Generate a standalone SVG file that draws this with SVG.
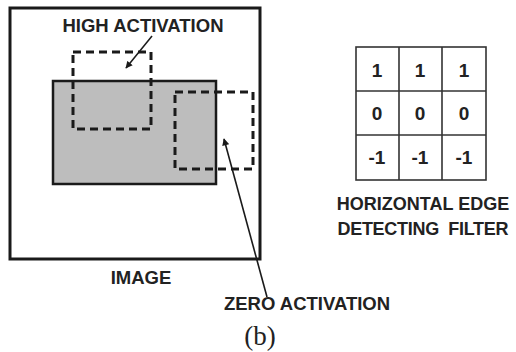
<svg xmlns="http://www.w3.org/2000/svg" width="516" height="352" viewBox="0 0 516 352">
<defs>
<style>
.lbl{font-family:"Liberation Sans",Arial,sans-serif;font-weight:bold;font-size:18.5px;fill:#222}
.flt{font-size:18px}
.num{font-family:"Liberation Sans",Arial,sans-serif;font-weight:bold;font-size:19px;fill:#222;text-anchor:middle}
.dash{fill:none;stroke:#1a1a1a;stroke-width:3;stroke-dasharray:8 5}
.cell{fill:none;stroke:#333;stroke-width:1.6}
.conn{stroke:#1a1a1a;stroke-width:1.6;fill:none}
</style>
<marker id="ah" viewBox="0 0 10 10" refX="9" refY="5" markerWidth="8" markerHeight="7" orient="auto" markerUnits="userSpaceOnUse">
<path d="M0,0 L10,5 L0,10 z" fill="#1a1a1a"/>
</marker>
</defs>
<rect width="516" height="352" fill="#fff"/>
<g id="image">
<rect x="10" y="8" width="250" height="251" fill="none" stroke="#1a1a1a" stroke-width="3"/>
<rect x="53" y="81" width="163" height="103" fill="#bdbdbd" stroke="#1a1a1a" stroke-width="2.5"/>
<text class="lbl" x="141" y="284" text-anchor="middle">IMAGE</text>
</g>
<g id="high-window">
<rect class="dash" x="73" y="52" width="78" height="77"/>
</g>
<g id="zero-window">
<rect class="dash" x="175" y="92" width="78" height="77"/>
</g>
<g id="high-label">
<text class="lbl" x="143" y="32" text-anchor="middle">HIGH ACTIVATION</text>
</g>
<g id="zero-label">
<text class="lbl" x="307" y="310" text-anchor="middle">ZERO ACTIVATION</text>
</g>
<g id="connectors">
<line class="conn" x1="152" y1="36" x2="126" y2="68" marker-end="url(#ah)"/>
<line class="conn" x1="267" y1="297" x2="224" y2="139" marker-end="url(#ah)"/>
</g>
<g id="filter">
<rect class="cell" x="356" y="47" width="130" height="133"/>
<line class="cell" x1="399" y1="47" x2="399" y2="180"/>
<line class="cell" x1="442" y1="47" x2="442" y2="180"/>
<line class="cell" x1="356" y1="91" x2="486" y2="91"/>
<line class="cell" x1="356" y1="135" x2="486" y2="135"/>
<text class="num" x="377" y="77">1</text>
<text class="num" x="420" y="77">1</text>
<text class="num" x="464" y="77">1</text>
<text class="num" x="377" y="120">0</text>
<text class="num" x="420" y="120">0</text>
<text class="num" x="464" y="120">0</text>
<text class="num" x="377" y="164">-1</text>
<text class="num" x="420" y="164">-1</text>
<text class="num" x="464" y="164">-1</text>
<text class="lbl flt" x="423" y="210" text-anchor="middle">HORIZONTAL EDGE</text>
<text class="lbl flt" x="423" y="235" text-anchor="middle" textLength="171">DETECTING&#160; FILTER</text>
</g>
<g id="caption">
<text x="260" y="345" text-anchor="middle" font-family="'Liberation Serif','DejaVu Serif',serif" font-size="27" fill="#222">(b)</text>
</g>
</svg>
